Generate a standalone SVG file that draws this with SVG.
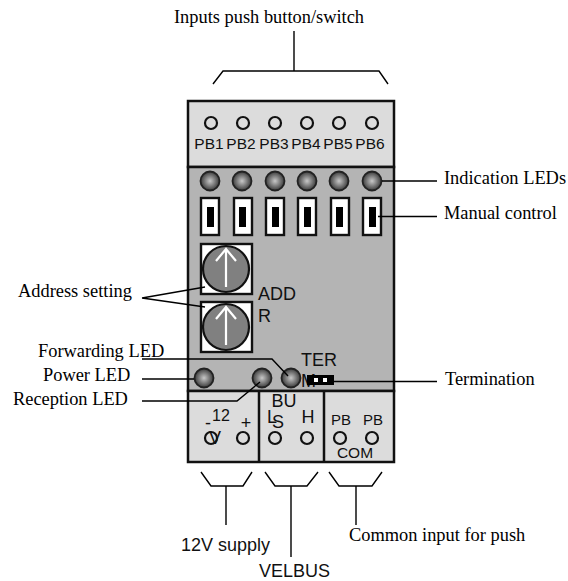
<svg xmlns="http://www.w3.org/2000/svg" width="568" height="581" viewBox="0 0 568 581">
<style>
.serif{font-family:"Liberation Serif",serif;font-size:18.4px;fill:#000}
.sans{font-family:"Liberation Sans",sans-serif;fill:#111}
.box{stroke:#111;stroke-width:2.5}
.hole{fill:none;stroke:#111;stroke-width:2.2}
.led{fill:url(#ledg);stroke:#222;stroke-width:1.8}
.line{fill:none;stroke:#000;stroke-width:1.4}
.sw{fill:#fff;stroke:#111;stroke-width:2.4}
.dial{fill:#808080;stroke:#111;stroke-width:2.2}
.arrow{fill:none;stroke:#fff;stroke-width:2.2}
</style>
<defs>
<radialGradient id="ledg" cx="50%" cy="50%" r="50%"><stop offset="0" stop-color="#c8c8c8"/><stop offset="1" stop-color="#3a3a3a"/></radialGradient>
</defs>
<rect width="568" height="581" fill="#fff"/>
<g id="module">
<rect class="box" x="188" y="101" width="206" height="66" fill="#dcdcdc"/>
<rect class="box" x="188" y="167" width="206" height="224" fill="#b4b4b4"/>
<rect class="box" x="188" y="391" width="206" height="71" fill="#dcdcdc"/>
<line class="box" x1="259" y1="391" x2="259" y2="462"/>
<line class="box" x1="324" y1="391" x2="324" y2="462"/>
</g>
<g id="pb-inputs">
<circle class="hole" cx="211" cy="123" r="6"/><circle class="hole" cx="243" cy="123" r="6"/><circle class="hole" cx="275" cy="123" r="6"/><circle class="hole" cx="307" cy="123" r="6"/><circle class="hole" cx="339" cy="123" r="6"/><circle class="hole" cx="372" cy="123" r="6"/>
<g class="sans" font-size="15.500" text-anchor="middle">
<text x="209" y="149">PB1</text><text x="241" y="149">PB2</text><text x="274" y="149">PB3</text><text x="306" y="149">PB4</text><text x="338" y="149">PB5</text><text x="370" y="149">PB6</text>
</g>
</g>
<g id="indication-leds">
<circle class="led" cx="210" cy="181" r="9.5"/><circle class="led" cx="242" cy="181" r="9.5"/><circle class="led" cx="275" cy="181" r="9.5"/><circle class="led" cx="307" cy="181" r="9.5"/><circle class="led" cx="339" cy="181" r="9.5"/><circle class="led" cx="372" cy="181" r="9.5"/>
</g>
<g id="manual-switches">
<rect class="sw" x="201" y="198" width="18" height="37"/><rect x="207" y="207" width="7" height="20" fill="#000"/>
<rect class="sw" x="234" y="198" width="18" height="37"/><rect x="239" y="207" width="7" height="20" fill="#000"/>
<rect class="sw" x="266" y="198" width="18" height="37"/><rect x="272" y="207" width="7" height="20" fill="#000"/>
<rect class="sw" x="298" y="198" width="18" height="37"/><rect x="304" y="207" width="7" height="20" fill="#000"/>
<rect class="sw" x="331" y="198" width="18" height="37"/><rect x="336" y="207" width="7" height="20" fill="#000"/>
<rect class="sw" x="363" y="198" width="18" height="37"/><rect x="369" y="207" width="7" height="20" fill="#000"/>
</g>
<g id="address-dials">
<rect class="sw" x="201" y="244" width="51" height="50"/>
<circle class="dial" cx="226" cy="269" r="23"/>
<path class="arrow" d="M226 287V249M216 261L226 249L236 261"/>
<rect class="sw" x="201" y="302" width="51" height="50"/>
<circle class="dial" cx="226" cy="327" r="23"/>
<path class="arrow" d="M226 345V307M216 319L226 307L236 319"/>
<text class="sans" x="258" y="300" font-size="18">ADD</text>
<text class="sans" x="258" y="322" font-size="18">R</text>
</g>
<g id="status-leds">
<circle class="led" cx="204" cy="378" r="9.5"/>
<circle class="led" cx="262" cy="378" r="9.5"/>
<circle class="led" cx="291" cy="378" r="9.5"/>
<text class="sans" x="301" y="366" font-size="18">TER</text>
<text class="sans" x="301" y="387" font-size="18">M</text>
<rect x="307" y="375" width="27" height="10" fill="#000"/>
<rect x="314" y="378" width="4" height="4" fill="#fff"/><rect x="323" y="378" width="4" height="4" fill="#fff"/>
</g>
<g id="terminals">
<circle class="hole" cx="211" cy="438" r="6"/><circle class="hole" cx="243" cy="438" r="6"/>
<circle class="hole" cx="275" cy="438" r="6"/><circle class="hole" cx="307" cy="438" r="6"/>
<circle class="hole" cx="340" cy="438" r="6"/><circle class="hole" cx="372" cy="438" r="6"/>
<g class="sans" text-anchor="middle">
<text x="208" y="429" font-size="18">-</text><text x="221" y="421" font-size="16">12</text><text x="246" y="429" font-size="18">+</text><text x="215" y="444" font-size="18">V</text>
<text x="284" y="407" font-size="18">BU</text><text x="272" y="423" font-size="18">L</text><text x="278" y="428" font-size="18">S</text><text x="308" y="423" font-size="18">H</text>
<text x="341" y="425" font-size="15">PB</text><text x="373" y="425" font-size="15">PB</text><text x="355" y="458" font-size="15.500">COM</text>
</g>
</g>
<g id="connectors">
<path class="line" d="M213 84L223 71H379L388 84M294 31V71"/>
<path class="line" d="M201 472L211 486H243L252 472M226 486V525"/>
<path class="line" d="M265 472L275 486H307L318 472M291 486V557"/>
<path class="line" d="M329 472L339 486H372L382 472M356 486V525"/>
<path class="line" d="M382 181H437M378 216.500H437"/>
<path class="line" d="M142 298L205 287M142 298L205 307"/>
<path class="line" d="M142 359H272L288 376"/>
<path class="line" d="M142 379H194"/>
<path class="line" d="M142 401H237L260 382"/>
<path class="line" d="M334 381.500H437"/>
</g>
<g id="labels">
<text class="serif" x="174" y="23">Inputs push button/switch</text>
<text class="serif" x="444" y="184">Indication LEDs</text>
<text class="serif" x="444" y="219">Manual control</text>
<text class="serif" x="18" y="297">Address setting</text>
<text class="serif" x="38" y="357">Forwarding LED</text>
<text class="serif" x="43" y="381">Power LED</text>
<text class="serif" x="13" y="405">Reception LED</text>
<text class="serif" x="445" y="385">Termination</text>
<text class="sans" x="181" y="551" font-size="18">12V supply</text>
<text class="sans" x="259" y="577" font-size="18">VELBUS</text>
<text class="serif" x="349" y="541">Common input for push</text>
</g>
</svg>
